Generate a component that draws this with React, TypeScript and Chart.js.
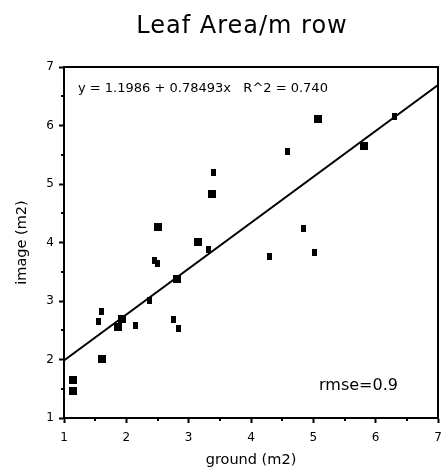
import React, { useEffect, useRef } from "react";
import { Chart, registerables } from "chart.js";

Chart.register(...registerables);

const TITLE = "Leaf Area/m row";
const X_LABEL = "ground (m2)";
const Y_LABEL = "image (m2)";
const EQUATION = "y = 1.1986 + 0.78493x   R^2 = 0.740";
const RMSE_TEXT = "rmse=0.9";

const AXIS_MIN = 1;
const AXIS_MAX = 7;
const MINOR_TICKS = [1.5, 2.5, 3.5, 4.5, 5.5, 6.5];

const INTERCEPT = 1.1986;
const SLOPE = 0.78493;
const FIT_X = [1, 7];

// larger square markers
const LARGE_X = [1.149, 1.149, 1.614, 1.871, 1.926, 2.513, 2.808, 3.155, 3.374, 5.08, 5.813];
const LARGE_Y = [1.65, 1.456, 2.009, 2.55, 2.692, 4.27, 3.376, 4.014, 4.834, 6.111, 5.655];

// smaller markers
const SMALL_X = [1.55, 1.594, 2.155, 2.364, 2.455, 2.497, 2.754, 2.834, 3.315, 3.395, 4.289, 4.589, 4.85, 5.022, 6.299];
const SMALL_Y = [2.646, 2.829, 2.573, 3.005, 3.689, 3.644, 2.692, 2.526, 3.872, 5.2, 3.757, 5.564, 4.243, 3.832, 6.162];

const FONT = '"DejaVu Sans", Verdana, sans-serif';

function rectImage(w: number, h: number) {
  const c = document.createElement("canvas");
  c.width = w;
  c.height = h;
  const g = c.getContext("2d")!;
  g.fillStyle = "#000";
  g.fillRect(0, 0, w, h);
  return c;
}

const decor = {
  id: "decor",
  afterDraw(chart: any) {
    const { ctx, chartArea, scales } = chart;
    const { left, right, top, bottom } = chartArea;
    const x = scales.x;
    const y = scales.y;
    ctx.save();
    ctx.strokeStyle = "#000";
    ctx.lineWidth = 2;
    ctx.beginPath();
    ctx.moveTo(left - 1, top);
    ctx.lineTo(right, top);
    ctx.lineTo(right, bottom + 1);
    ctx.stroke();
    ctx.beginPath();
    for (const v of MINOR_TICKS) {
      const px = Math.round(x.getPixelForValue(v));
      ctx.moveTo(px, bottom);
      ctx.lineTo(px, bottom + 3);
      const py = Math.round(y.getPixelForValue(v));
      ctx.moveTo(left, py);
      ctx.lineTo(left - 3, py);
    }
    ctx.stroke();
    ctx.fillStyle = "#000";
    ctx.textAlign = "left";
    ctx.textBaseline = "alphabetic";
    ctx.font = `13px ${FONT}`;
    ctx.fillText(EQUATION, left + 14, top + 25);
    ctx.font = `16px ${FONT}`;
    ctx.fillText(RMSE_TEXT, left + 255, bottom - 28);
    // chart title
    ctx.font = `24px ${FONT}`;
    if ("letterSpacing" in ctx) (ctx as any).letterSpacing = "1px";
    ctx.textAlign = "center";
    ctx.textBaseline = "middle";
    ctx.fillText(TITLE, left + 178, top - 40);
    ctx.restore();
  },
};

export default function App() {
  const ref = useRef<HTMLCanvasElement | null>(null);

  useEffect(() => {
    if (!ref.current) return;
    const bigPt = rectImage(8, 8);
    const smallPt = rectImage(5, 7);
    const fitData = FIT_X.map((v) => ({ x: v, y: INTERCEPT + SLOPE * v }));
    const chart = new Chart(ref.current, {
      type: "scatter",
      data: {
        datasets: [
          {
            type: "line",
            label: "fit",
            data: fitData,
            borderColor: "#000",
            borderWidth: 2,
            pointRadius: 0,
            fill: false,
          } as any,
          {
            label: "large",
            data: LARGE_X.map((v, i) => ({ x: v, y: LARGE_Y[i] })),
            pointStyle: bigPt as any,
            pointRadius: 4,
          },
          {
            label: "small",
            data: SMALL_X.map((v, i) => ({ x: v, y: SMALL_Y[i] })),
            pointStyle: smallPt as any,
            pointRadius: 3,
          },
        ],
      },
      options: {
        responsive: false,
        animation: false,
        layout: { padding: { left: 0, right: 7, top: 67, bottom: 0 } },
        plugins: {
          legend: { display: false },
          tooltip: { enabled: false },
          title: { display: false },
        },
        scales: {
          x: {
            type: "linear",
            position: "bottom",
            min: AXIS_MIN,
            max: AXIS_MAX,
            afterFit(s: any) {
              s.height = 56;
              s.paddingLeft = 0;
              s.paddingRight = 0;
            },
            ticks: {
              stepSize: 1,
              autoSkip: false,
              color: "#000",
              padding: 8,
              font: { family: FONT, size: 12 },
            },
            grid: {
              drawOnChartArea: false,
              drawTicks: true,
              tickLength: 5,
              tickWidth: 2,
              tickColor: "#000",
            },
            border: { display: true, width: 2, color: "#000" },
            title: {
              display: true,
              text: X_LABEL,
              color: "#000",
              font: { family: FONT, size: 14.5 },
              padding: { top: 0, bottom: 5 },
            },
          },
          y: {
            type: "linear",
            position: "left",
            min: AXIS_MIN,
            max: AXIS_MAX,
            afterFit(s: any) {
              s.width = 64;
              s.paddingTop = 0;
              s.paddingBottom = 0;
            },
            ticks: {
              stepSize: 1,
              autoSkip: false,
              color: "#000",
              padding: 5,
              font: { family: FONT, size: 12 },
            },
            grid: {
              drawOnChartArea: false,
              drawTicks: true,
              tickLength: 5,
              tickWidth: 2,
              tickColor: "#000",
            },
            border: { display: true, width: 2, color: "#000" },
            title: {
              display: true,
              text: Y_LABEL,
              color: "#000",
              font: { family: FONT, size: 14.5 },
              padding: { top: 13.5, bottom: 0 },
            },
          },
        },
      },
      plugins: [decor],
    });
    return () => chart.destroy();
  }, []);

  return (
    <div style={{ position: "absolute", left: 0, top: 0, width: 445, height: 474, background: "#fff" }}>
      <canvas ref={ref} width={445} height={474} />
    </div>
  );
}
